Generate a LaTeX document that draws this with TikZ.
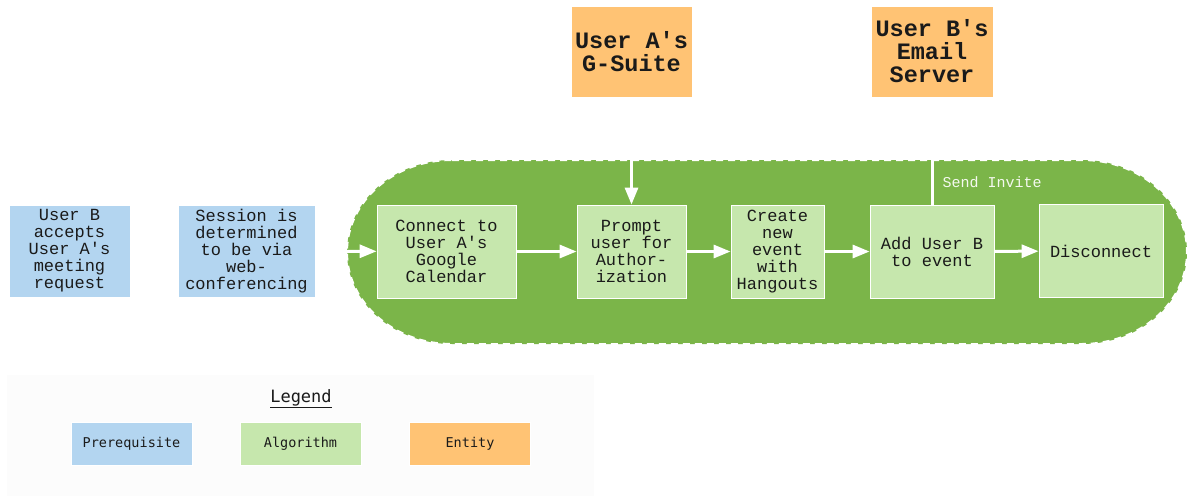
\documentclass[tikz,border=0pt]{standalone}
\usepackage{fontspec}
\usepackage{tikz}
\usetikzlibrary{arrows.meta}
\newfontfamily\boxfont{Liberation Mono}
\newfontfamily\legendfont{DejaVu Sans Mono}
\definecolor{prereqblue}{HTML}{B3D5F0}
\definecolor{algogreen}{HTML}{C6E7AD}
\definecolor{entityorange}{HTML}{FFC374}
\definecolor{bandgreen}{HTML}{7BB549}
\definecolor{legendbg}{HTML}{FCFCFC}
\definecolor{inktext}{HTML}{1A1A1A}
\begin{document}
\begin{tikzpicture}[x=1pt,y=-1pt,
  box/.style={inner sep=0pt,align=center,text=inktext,draw=white,line width=0.8pt,
    font=\boxfont\fontsize{17}{17}\selectfont},
  prereq/.style={box,fill=prereqblue,minimum height=92pt},
  algo/.style={box,fill=algogreen,minimum height=93pt},
  entity/.style={box,fill=entityorange,minimum width=121pt,minimum height=91pt,
    font=\boxfont\bfseries\fontsize{23.5}{23}\selectfont},
  keybox/.style={inner sep=0pt,text=inktext,minimum width=121pt,minimum height=43pt,
    draw=white,line width=0.6pt,font=\legendfont\fontsize{13.5}{14}\selectfont},
  flow/.style={draw=white,line width=3pt,-{Triangle[length=17pt,width=13pt]}},
  sendlbl/.style={text=white!92!bandgreen,inner sep=0pt,
    font=\boxfont\fontsize{15}{15}\selectfont}]
\useasboundingbox (0,0) rectangle (1187,496);
\fill [legendbg] (7,375) rectangle (594,496);
\begin{scope}[shift={(767,252)},x=1pt,y=1pt]
\filldraw [fill=bandgreen,draw=white,line width=2pt,dash pattern=on 7pt off 5pt]
  (-315,92) -- (315,92) arc [start angle=90,end angle=-90,x radius=105,y radius=92]
  -- (-315,-92) arc [start angle=270,end angle=90,x radius=105,y radius=92] -- cycle;
\end{scope}

\node [prereq,minimum width=121pt] (ub) at (69.5,251) {User B\\accepts\\User A's\\meeting\\request};
\node [prereq,minimum width=137pt] (sess) at (246.5,251) {Session is\\determined\\to be via\\web-\\conferencing};
\node [algo,minimum width=139pt] (conn) at (446.5,251.5) {Connect to\\User A's\\Google\\Calendar};
\node [algo,minimum width=109pt] (prompt) at (631.5,251.5) {Prompt\\user for\\Author-\\ization};
\node [algo,minimum width=93pt] (create) at (777.5,251.5) {Create\\new\\event\\with\\Hangouts};
\node [algo,minimum width=124pt] (addb) at (932,251.5) {Add User B\\to event};
\node [algo,minimum width=124pt] (disc) at (1101,251) {Disconnect};
\node [entity] (gsuite) at (631.5,51.5) {User A's\\G-Suite};
\node [entity,minimum width=122pt] (email) at (932,51.5) {User B's\\Email\\Server};

\draw [flow] (ub) -- (sess);
\draw [flow] (sess) -- (conn);
\draw [flow] (conn) -- (prompt);
\draw [flow] (prompt) -- (create);
\draw [flow] (create) -- (addb);
\draw [flow] (addb) -- (disc);
\draw [flow,{Triangle[length=17pt,width=13pt]}-{Triangle[length=17pt,width=13pt]},shorten <=3pt] (gsuite) -- (prompt);
\draw [flow,shorten >=3pt] (addb) -- (email)
  node [sendlbl,pos=0.21,anchor=west,xshift=9pt] {Send Invite};

\node [text=inktext,inner sep=0pt,font=\legendfont\fontsize{17}{17}\selectfont] (legend) at (301,399) {\underline{Legend}};
\node [keybox,fill=prereqblue] (keyprereq) at (131.5,443.5) {Prerequisite};
\node [keybox,fill=algogreen] (keyalgo) at (300.5,443.5) {Algorithm};
\node [keybox,fill=entityorange] (keyentity) at (470,443.5) {Entity};
\end{tikzpicture}
\end{document}
